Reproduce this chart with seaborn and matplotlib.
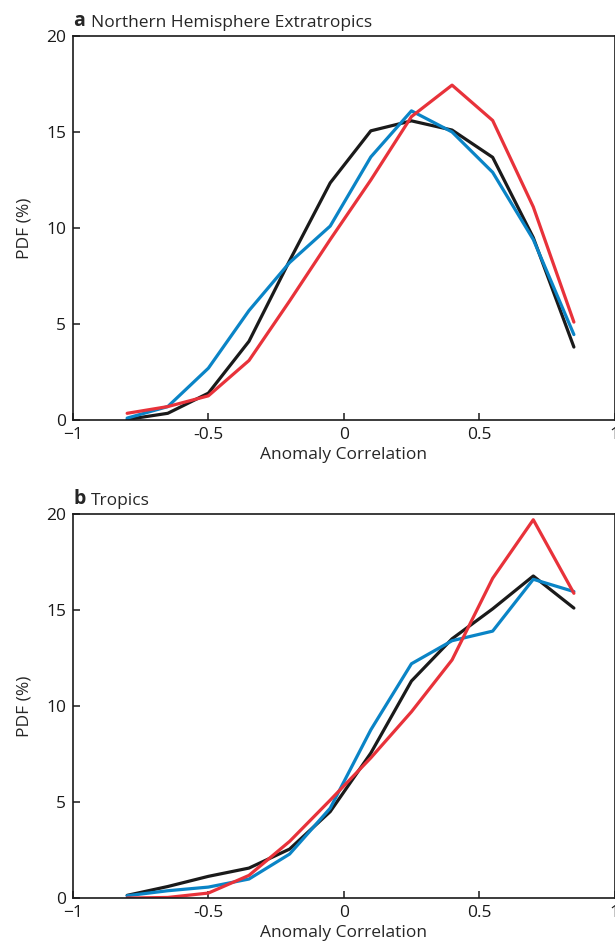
import numpy as np
import pandas as pd
import seaborn as sns
import matplotlib.pyplot as plt

# Bin centres of anomaly correlation
x_bins = [-0.8, -0.65, -0.5, -0.35, -0.2, -0.05, 0.1, 0.25, 0.4, 0.55, 0.7, 0.85]

# Panel a: Northern Hemisphere Extratropics (PDF %)
nh_black = [0.03, 0.35, 1.4, 4.1, 8.3, 12.35, 15.06, 15.58, 15.1, 13.68, 9.5, 3.8]
nh_blue = [0.1, 0.7, 2.7, 5.7, 8.2, 10.1, 13.7, 16.1, 15.0, 12.9, 9.4, 4.45]
nh_red = [0.35, 0.7, 1.26, 3.1, 6.2, 9.4, 12.5, 15.8, 17.44, 15.6, 11.1, 5.1]

# Panel b: Tropics (PDF %)
tr_black = [0.14, 0.6, 1.13, 1.56, 2.55, 4.5, 7.55, 11.3, 13.5, 15.06, 16.77, 15.1]
tr_blue = [0.12, 0.38, 0.57, 0.99, 2.29, 4.68, 8.76, 12.2, 13.4, 13.9, 16.6, 15.96]
tr_red = [0.0, 0.03, 0.26, 1.18, 2.95, 5.1, 7.3, 9.7, 12.4, 16.65, 19.7, 15.87]

x_ticks = [-1, -0.5, 0, 0.5, 1]
x_ticklabels = ['\u22121', '-0.5', '0', '0.5', '1']
y_ticks = [0, 5, 10, 15, 20]

colors = {'black': '#1a1a1a', 'blue': '#0a84c6', 'red': '#e8323a'}

sns.set_style('ticks')
plt.rcParams['font.family'] = ['Open Sans', 'DejaVu Sans']
plt.rcParams['font.size'] = 12

fig = plt.figure(figsize=(6.15, 9.49), dpi=100)
ax_a = fig.add_axes([0.1187, 0.5574, 0.8805, 0.4047])
ax_b = fig.add_axes([0.1187, 0.0537, 0.8805, 0.4047])

panels = [
    (ax_a, 'a', 'Northern Hemisphere Extratropics', nh_black, nh_blue, nh_red),
    (ax_b, 'b', 'Tropics', tr_black, tr_blue, tr_red),
]

for ax, letter, title, black, blue, red in panels:
    df = pd.DataFrame({'x': x_bins, 'black': black, 'blue': blue, 'red': red})
    for name in ['black', 'blue', 'red']:
        sns.lineplot(data=df, x='x', y=name, color=colors[name], lw=2.3, ax=ax)
    ax.set_xlim(-1, 1)
    ax.set_ylim(0, 20)
    ax.set_xticks(x_ticks)
    ax.set_xticklabels(x_ticklabels)
    ax.set_yticks(y_ticks)
    ax.tick_params(direction='in', length=5, width=1.1, labelsize=12.5, pad=5, colors='#1a1a1a')
    for s in ax.spines.values():
        s.set_linewidth(1.2)
        s.set_color('#1a1a1a')
        s.set_visible(True)
    ax.set_xlabel('Anomaly Correlation', fontsize=12.5, labelpad=3)
    ax.set_ylabel('PDF (%)', fontsize=12.5, labelpad=10)
    ax.text(0.0, 1.012, letter, transform=ax.transAxes, fontsize=14, fontweight='bold',
            ha='left', va='bottom')
    ax.text(0.033, 1.012, title, transform=ax.transAxes, fontsize=12.5,
            ha='left', va='bottom')

fig.savefig('out.png', dpi=100)
